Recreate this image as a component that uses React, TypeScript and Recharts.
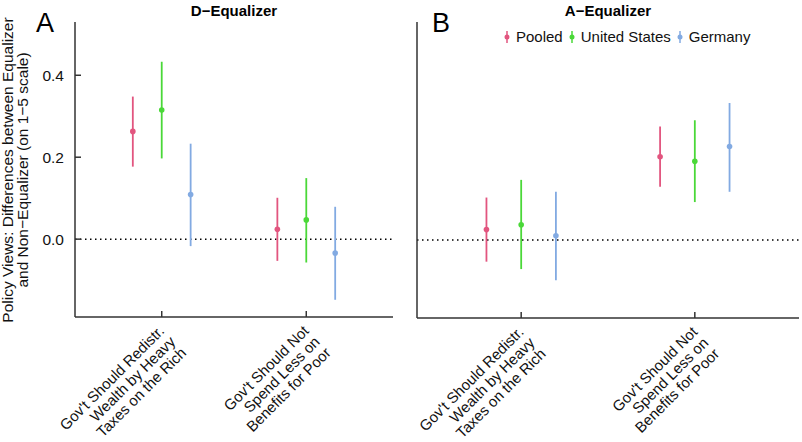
import React from 'react';
import {
  ErrorBar,
  Legend,
  ReferenceLine,
  Scatter,
  ScatterChart,
  XAxis,
  YAxis,
} from 'recharts';

// values (difference on 1-5 scale, with 95% CI)
const categoryLines = [
  ["Gov't Should Redistr.", 'Wealth by Heavy', 'Taxes on the Rich'],
  ["Gov't Should Not", 'Spend Less on', 'Benefits for Poor'],
];
const seriesNames = ['Pooled', 'United States', 'Germany'];
const seriesColors = ['#E2557F', '#4AD838', '#82AAE2'];
const yTicks = [0, 0.2, 0.4];

// panel A: D-Equalizer
const dEstimate = [
  [0.263, 0.024],
  [0.315, 0.047],
  [0.109, -0.034],
];
const dLow = [
  [0.177, -0.053],
  [0.197, -0.057],
  [-0.017, -0.148],
];
const dHigh = [
  [0.348, 0.101],
  [0.433, 0.149],
  [0.233, 0.079],
];

// panel B: A-Equalizer
const aEstimate = [
  [0.025, 0.202],
  [0.037, 0.191],
  [0.01, 0.227],
];
const aLow = [
  [-0.053, 0.129],
  [-0.071, 0.092],
  [-0.098, 0.117],
];
const aHigh = [
  [0.103, 0.276],
  [0.146, 0.291],
  [0.117, 0.333],
];

const FONT = '"Liberation Sans", Arial, Helvetica, sans-serif';
const AXIS = '#333';
const dodge = [-0.2, 0, 0.2];

function buildRows(est: number[][], low: number[][], high: number[][], s: number) {
  return est[s].map((y, c) => ({
    x: c + 1 + dodge[s],
    y,
    err: [y - low[s][c], high[s][c] - y],
  }));
}

function XTick(props: any) {
  const { x, y, payload } = props;
  const lines = categoryLines[Math.round(payload.value) - 1] || [];
  return (
    <g transform={`translate(${x},${y})`}>
      <line x1={0} x2={0} y1={0} y2={-6} stroke={AXIS} strokeWidth={1.5} />
      {lines.map((l, i) => (
        <text
          key={i}
          transform={`rotate(-45) translate(-8,${13 + i * 15.5})`}
          textAnchor="end"
          fontSize={15}
          fill="#111"
          fontFamily={FONT}
        >
          {l}
        </text>
      ))}
    </g>
  );
}

function LegendContent() {
  return (
    <div style={{ display: 'flex', alignItems: 'center', fontFamily: FONT, fontSize: 15, lineHeight: '18px', color: '#111' }}>
      {seriesNames.map((n, i) => (
        <div key={n} style={{ display: 'flex', alignItems: 'center', marginRight: 5 }}>
          <svg width={8} height={14} style={{ marginRight: 5 }}>
            <line x1={4} x2={4} y1={1} y2={13} stroke={seriesColors[i]} strokeWidth={1.5} />
            <circle cx={4} cy={7} r={2.5} fill={seriesColors[i]} />
          </svg>
          <span>{n}</span>
        </div>
      ))}
    </div>
  );
}

function Panel(props: {
  est: number[][];
  low: number[][];
  high: number[][];
  width: number;
  yWidth: number;
  right: number;
  xHeight: number;
  showYLabels: boolean;
  legend?: boolean;
}) {
  const { est, low, high, width, yWidth, right, xHeight, showYLabels, legend } = props;
  return (
    <ScatterChart width={width} height={442} margin={{ top: 22, right, bottom: 0, left: 0 }} style={{ fontFamily: FONT }}>
      <XAxis
        type="number"
        dataKey="x"
        domain={[0.4, 2.6]}
        ticks={[1, 2]}
        interval={0}
        allowDataOverflow
        height={xHeight}
        tickLine={false}
        tickSize={0}
        tickMargin={0}
        axisLine={{ stroke: AXIS, strokeWidth: 1.5 }}
        tick={<XTick />}
      />
      <YAxis
        type="number"
        dataKey="y"
        domain={[-0.19, 0.53]}
        ticks={yTicks}
        allowDataOverflow
        width={yWidth}
        tickSize={-6}
        tickMargin={17}
        tickLine={{ stroke: AXIS, strokeWidth: 1.5 }}
        axisLine={{ stroke: AXIS, strokeWidth: 1.5 }}
        tick={showYLabels ? { fill: '#111', fontSize: 15.5 } : false}
        tickFormatter={(v) => Number(v).toFixed(1)}
      />
      <ReferenceLine y={0} stroke="#000" strokeWidth={1.5} strokeDasharray="1.5 3.5" />
      {legend && (
        <Legend
          layout="horizontal"
          verticalAlign="middle"
          align="center"
          wrapperStyle={{ top: 28, left: 103, width: 280, height: 18 }}
          content={<LegendContent />}
        />
      )}
      {seriesNames.map((n, s) => (
        <Scatter
          key={n}
          name={n}
          data={buildRows(est, low, high, s)}
          fill={seriesColors[s]}
          isAnimationActive={false}
          shape={(p: any) => <circle cx={p.cx} cy={p.cy} r={2.8} fill={seriesColors[s]} />}
        >
          <ErrorBar dataKey="err" direction="y" width={0} stroke={seriesColors[s]} strokeWidth={1.8} isAnimationActive={false} />
        </Scatter>
      ))}
    </ScatterChart>
  );
}

export default function App() {
  return (
    <div style={{ position: 'absolute', left: 0, top: 0, width: 802, height: 442, background: '#fff', fontFamily: FONT }}>
      <div style={{ position: 'absolute', left: 0, top: 0 }}>
        <Panel est={dEstimate} low={dLow} high={dHigh} width={400} yWidth={75} right={7} xHeight={125} showYLabels />
      </div>
      <div style={{ position: 'absolute', left: 400, top: 0 }}>
        <Panel est={aEstimate} low={aLow} high={aHigh} width={402} yWidth={17} right={3} xHeight={124} showYLabels={false} legend />
      </div>
      <svg width={802} height={442} style={{ position: 'absolute', left: 0, top: 0, pointerEvents: 'none' }} fontFamily={FONT}>
        <text x={36} y={32} fontSize={27} fill="#000">A</text>
        <text x={432} y={32} fontSize={27} fill="#000">B</text>
        <text x={234} y={16} fontSize={15} fontWeight="bold" textAnchor="middle" fill="#000">D−Equalizer</text>
        <text x={608} y={16} fontSize={15} fontWeight="bold" textAnchor="middle" fill="#000">A−Equalizer</text>
        <text transform="translate(13,170) rotate(-90)" fontSize={15.5} textAnchor="middle" fill="#111">
          <tspan x={0} y={0}>Policy Views: Differences between Equalizer</tspan>
          <tspan x={0} y={15}>and Non−Equalizer (on 1−5 scale)</tspan>
        </text>
      </svg>
    </div>
  );
}
